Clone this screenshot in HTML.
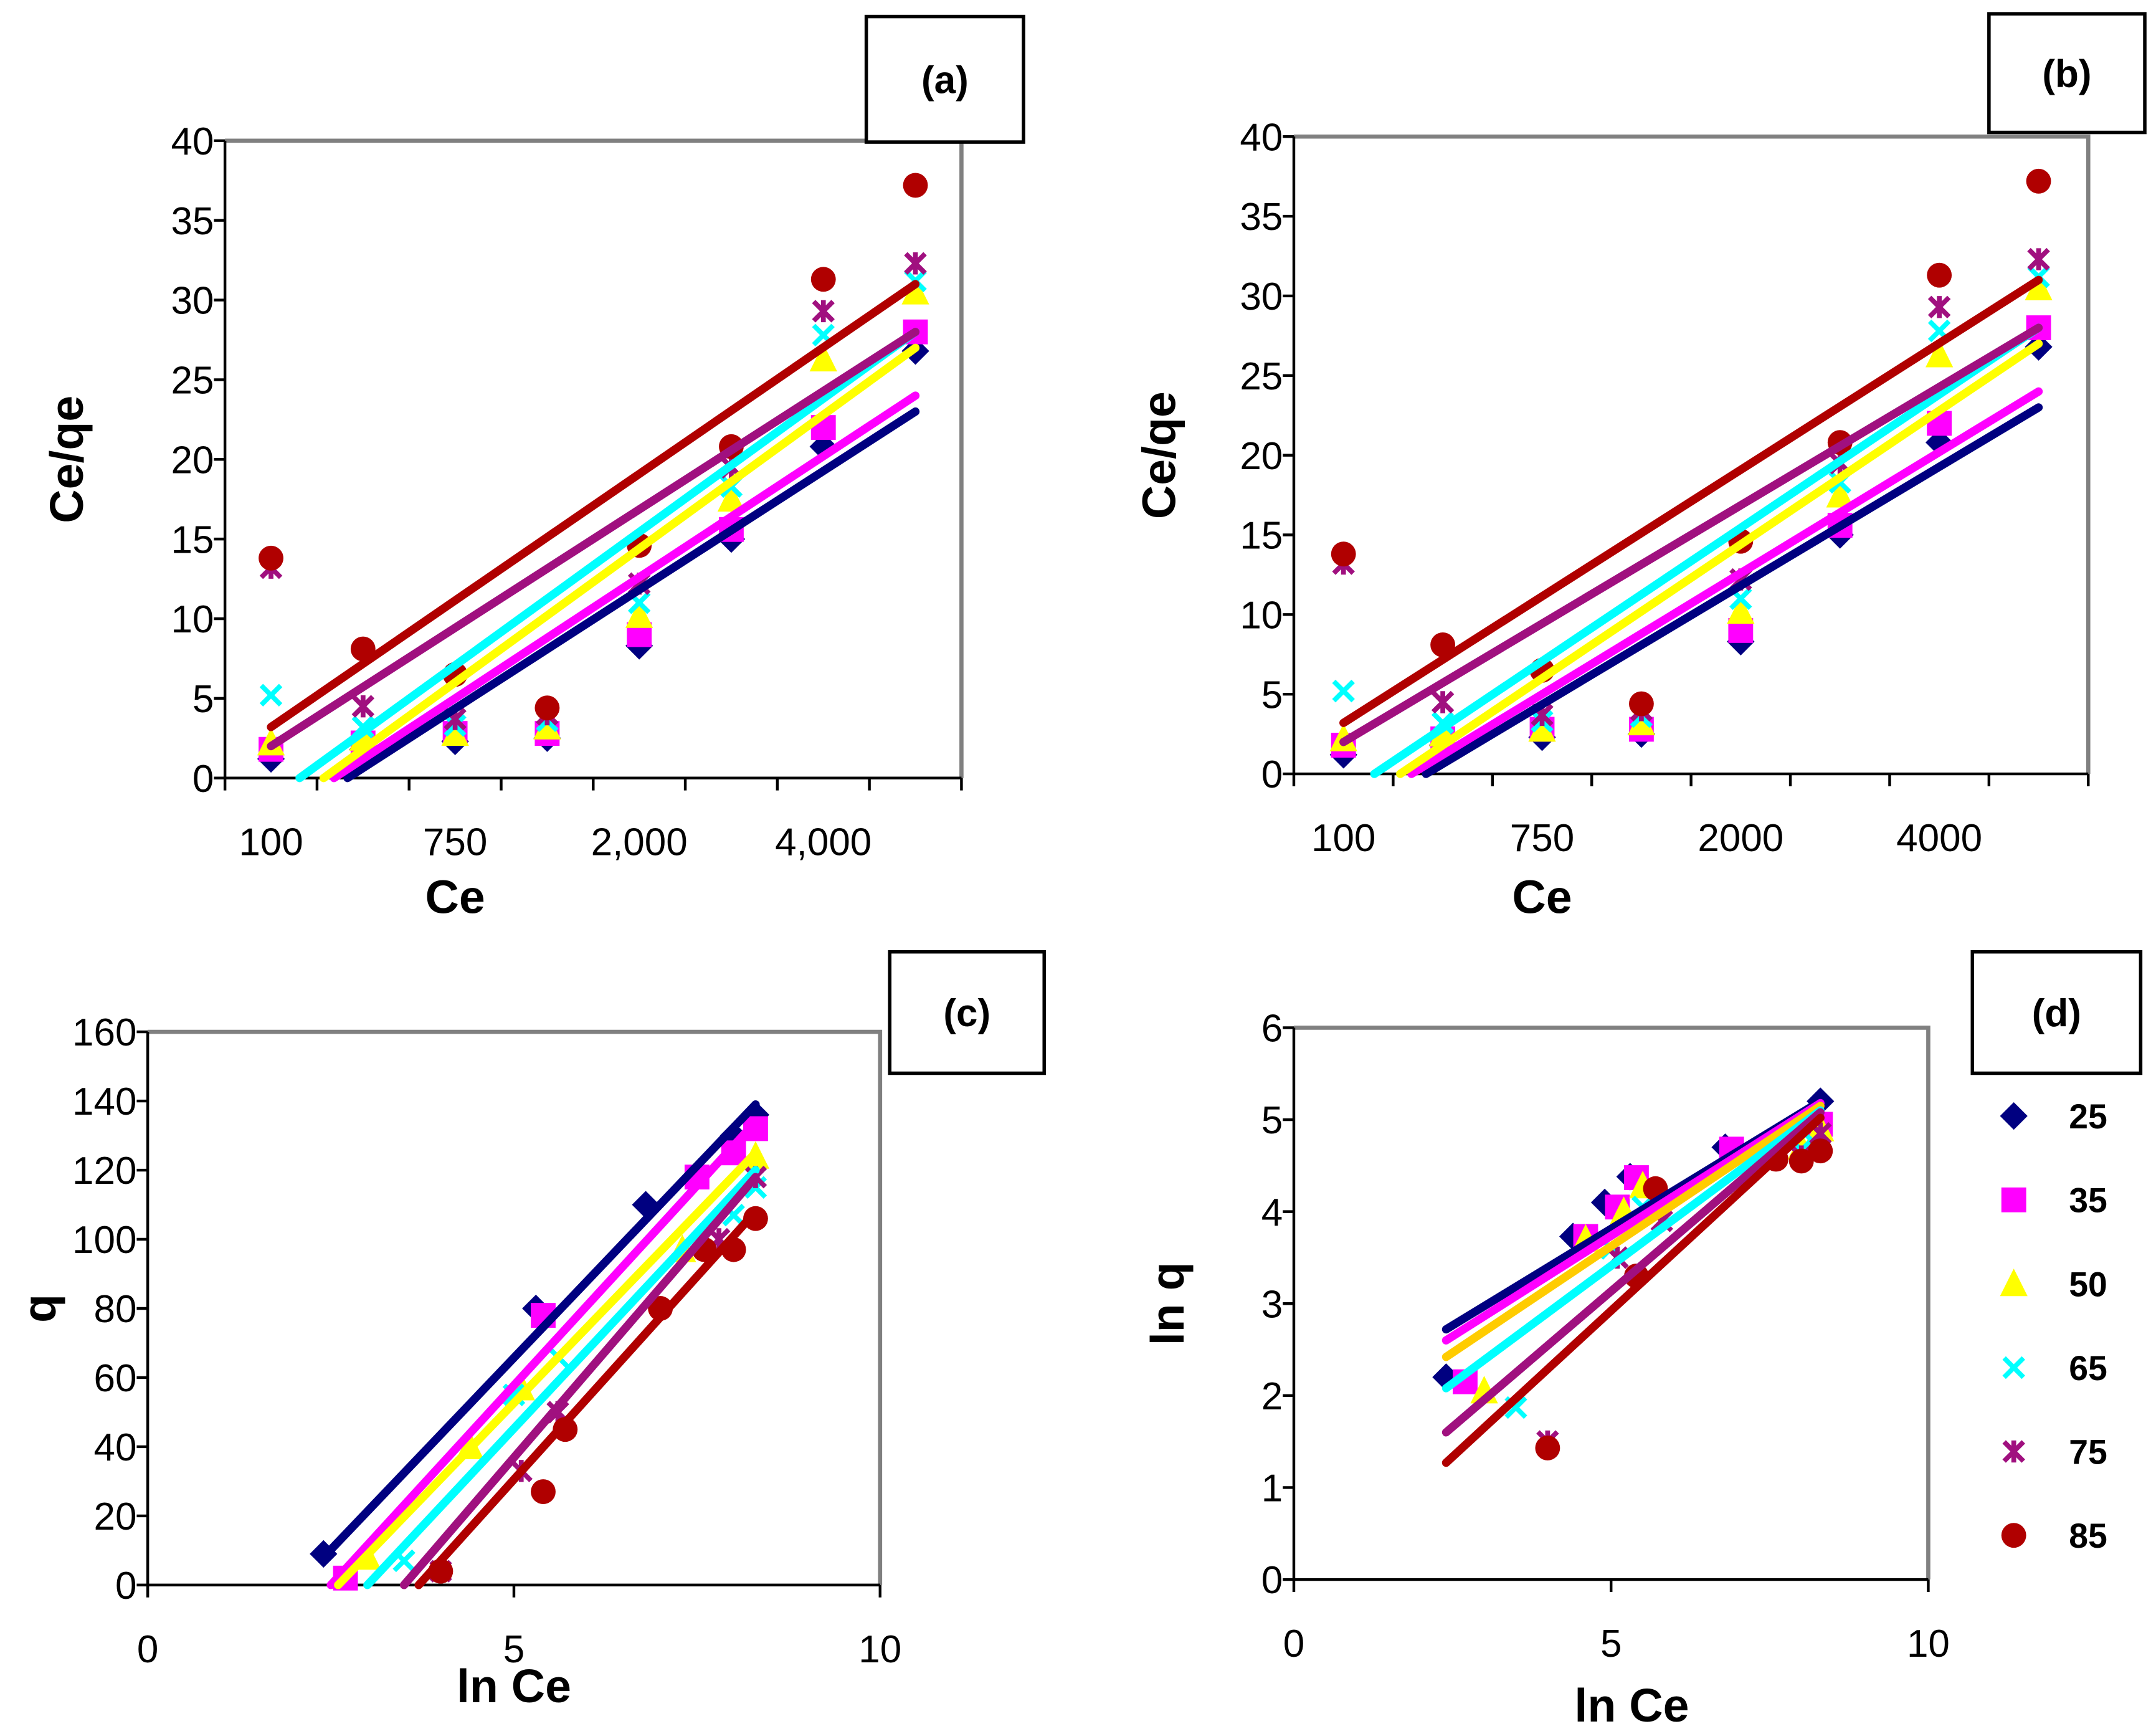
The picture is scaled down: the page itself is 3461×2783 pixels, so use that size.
<!DOCTYPE html>
<html><head><meta charset="utf-8"><style>
html,body{margin:0;padding:0;background:#fff}
svg{display:block}
text{font-family:"Liberation Sans",sans-serif}
</style></head><body>
<svg id="fig" xmlns="http://www.w3.org/2000/svg" width="3461" height="2783" viewBox="0 0 1563 1257">
<rect x="0" y="0" width="1563" height="1257" fill="#fff"/>
</svg>
<script>
const seriesNames = ["25","35","50","65","75","85"];
const abCategories = ["100","","750","","2,000","","4,000",""];
const bCategories = ["100","","750","","2000","","4000",""];
const ab25 = [1.2,1.8,2.3,2.5,8.3,15.0,20.8,26.8];
const ab35 = [1.8,2.2,2.8,2.8,9.0,15.6,22.0,28.0];
const ab50 = [2.2,2.5,2.8,3.2,10.2,17.5,26.3,30.5];
const ab65 = [5.2,3.2,3.3,3.6,11.0,18.3,27.8,31.2];
const ab75 = [13.2,4.5,3.7,4.0,12.2,19.5,29.3,32.3];
const ab85 = [13.8,8.1,6.5,4.4,14.6,20.8,31.3,37.2];
const abTrendStart = [-3.1,-2.6,-2.4,-1.3,2.0,3.2];
const abTrendEnd = [23.0,24.0,27.0,28.0,28.0,31.0];
const abYTicks = [0,5,10,15,20,25,30,35,40];
const c25x = [2.4,5.3,6.8,8.0,8.3], c25y = [9,80,110,130,136];
const c35x = [2.7,5.4,7.5,8.0,8.3], c35y = [2,78,118,125,132];
const c50x = [3.0,4.4,5.1,7.3,8.3], c50y = [8,40,57,97,124];
const c65x = [3.5,5.0,5.6,8.0,8.3], c65y = [7,55,66,107,115];
const c75x = [4.0,5.1,5.6,7.8,8.3], c75y = [4,33,50,100,118];
const c85x = [4.0,5.4,5.7,7.0,7.6,8.0,8.3], c85y = [4,27,45,80,97,97,106];
const cTrendX0 = [2.4,2.5,2.6,3.0,3.5,3.7];
const cTrendY0 = [8,0,0,0,0,0];
const cTrendY1 = [139,134,125,120,118,108];
const cYTicks = [0,20,40,60,80,100,120,140,160];
const xTicksLn = [0,5,10];
const d25x = [2.4,4.4,4.9,5.3,6.8,8.3], d25y = [2.2,3.73,4.1,4.38,4.7,5.2];
const d35x = [2.7,4.6,5.1,5.4,6.9,8.3], d35y = [2.15,3.73,4.05,4.37,4.68,4.95];
const d50x = [3.0,4.6,5.2,5.5,8.0,8.3], d50y = [2.05,3.7,4.0,4.28,4.7,4.9];
const d65x = [3.5,5.0,5.5,8.0,8.2], d65y = [1.87,3.6,4.05,4.67,4.75];
const d75x = [4.0,5.1,5.8,8.0,8.3], d75y = [1.5,3.5,3.9,4.6,4.85];
const d85x = [4.0,5.4,5.7,7.6,8.0,8.3], d85y = [1.43,3.3,4.25,4.57,4.55,4.66];
const dTrendY0 = [2.72,2.6,2.42,2.08,1.6,1.27];
const dTrendY1 = [5.2,5.18,5.15,5.1,5.08,5.02];
const dYTicks = [0,1,2,3,4,5,6];

const colors = ["#000080","#ff00ff","#ffff00","#00ffff","#a0107f","#b00000"];
const dLineColors = ["#000080","#ff00ff","#ffcc00","#00ffff","#a0107f","#b00000"];
const markers = ["diamond","square","triangle","x","star","circle"];
const NS = "http://www.w3.org/2000/svg";
const svg = document.getElementById("fig");

function el(tag, attrs, parent){
  const e = document.createElementNS(NS, tag);
  for (const k in attrs) e.setAttribute(k, attrs[k]);
  (parent||svg).appendChild(e);
  return e;
}
function txt(parent, x, y, s, size, anchor, bold, serif){
  const t = el("text", {x:x, y:y, "font-size":size, "text-anchor":anchor||"middle", "font-weight":bold?"bold":"normal", fill:"#000"}, parent);
  if (serif) t.setAttribute("font-family", '"Liberation Serif",serif');
  t.textContent = s;
  return t;
}
function marker(parent, kind, x, y, color){
  const s = 10;
  let m;
  if (kind==="diamond") m = el("polygon",{points:`${x},${y-s} ${x+s},${y} ${x},${y+s} ${x-s},${y}`,fill:color},parent);
  else if (kind==="square") m = el("rect",{x:x-s+1,y:y-s+1,width:2*s-2,height:2*s-2,fill:color},parent);
  else if (kind==="triangle") m = el("polygon",{points:`${x},${y-s-1} ${x+s},${y+s-1} ${x-s},${y+s-1}`,fill:color},parent);
  else if (kind==="circle") m = el("circle",{cx:x,cy:y,r:s-1,fill:color},parent);
  else if (kind==="x") m = el("path",{d:`M${x-7},${y-7}L${x+7},${y+7}M${x+7},${y-7}L${x-7},${y+7}`,stroke:color,"stroke-width":3.5},parent);
  else m = el("path",{d:`M${x-7},${y-7}L${x+7},${y+7}M${x+7},${y-7}L${x-7},${y+7}M${x},${y-8}L${x},${y+8}`,stroke:color,"stroke-width":3.5},parent);
  
  
  return m;
}
function frame(g, L, R, T, B){
  const f1 = el("path",{d:`M${L},${T}L${R},${T}L${R},${B}`,stroke:"#808080","stroke-width":3,fill:"none"},g);
  
  
  const ya = el("line",{x1:L,y1:T,x2:L,y2:B,stroke:"#000","stroke-width":2},g);
  
  
  const xa = el("line",{x1:L,y1:B,x2:R,y2:B,stroke:"#000","stroke-width":2},g);
  
  
}
function labelBox(g, x, y, w, h, s){
  const r = el("rect",{x:x,y:y,width:w,height:h,fill:"#fff",stroke:"#000","stroke-width":2.5},g);
  
  
  const t = txt(g, x+w/2, y+h/2+10, s, 28, "middle", true, true);
  
  
}
function yAxisTicks(g, L, yOf, ticks){
  ticks.forEach(v=>{
    const y = yOf(v);
    el("line",{x1:L-8,y1:y,x2:L,y2:y,stroke:"#000","stroke-width":2},g);
    const t = txt(g, L-8, y+10, String(v), 28, "end");
    
    
  });
}

function catPanel(name, L, R, T, B, cats, box, ylabX, xlabY){
  const g = el("g",{});
  
  
  const n = cats.length, w = (R-L)/n;
  const xOf = i => L + w*(i+0.5);
  const yOf = v => B - (v/40)*(B-T);
  frame(g, L, R, T, B);
  yAxisTicks(g, L, yOf, abYTicks);
  for (let i=0;i<=n;i++) el("line",{x1:L+w*i,y1:B,x2:L+w*i,y2:B+9,stroke:"#000","stroke-width":2},g);
  cats.forEach((c,i)=>{ if(c){ const t = txt(g, xOf(i), B+56, c, 28);
    
     }});
  const series = [ab25,ab35,ab50,ab65,ab75,ab85];
  series.forEach((vals,s)=>{
    vals.forEach((v,i)=> marker(g, markers[s], xOf(i), yOf(v), colors[s]));
  });
  series.forEach((vals,s)=>{
    let x0 = 0, y0 = abTrendStart[s], x1 = n-1, y1 = abTrendEnd[s];
    if (y0 < 0){ x0 = x0 + (0-y0)/(y1-y0)*(x1-x0); y0 = 0; }
    const ln = el("line",{x1:xOf(x0),y1:yOf(y0),x2:xOf(x1),y2:yOf(y1),stroke:colors[s],"stroke-width":6,"stroke-linecap":"round"},g);
    
    
  });
  const yl = txt(g, ylabX, (T+B)/2, "Ce/qe", 34, "middle", true);
  yl.setAttribute("transform", `rotate(-90 ${ylabX} ${(T+B)/2})`);
  
  
  const xl = txt(g, xOf(2), xlabY, "Ce", 34, "middle", true);
  
  
  labelBox(g, box[0], box[1], box[2], box[3], box[4]);
}
catPanel("panel-a", 163, 697, 102, 564, abCategories, [628,12,114,91,"(a)"], 60, 662);
catPanel("panel-b", 938, 1514, 99, 561, bCategories, [1442,10,113,86,"(b)"], 852, 662);

function numPanel(name, L, R, T, B, ymax, yticks, xs, ys, t0x, t0y, t1y, lcols, box, ylab, ylabX, xlabY){
  const g = el("g",{});
  
  
  const xOf = v => L + (v/10)*(R-L);
  const yOf = v => B - (v/ymax)*(B-T);
  frame(g, L, R, T, B);
  yAxisTicks(g, L, yOf, yticks);
  xTicksLn.forEach(v=>{
    el("line",{x1:xOf(v),y1:B,x2:xOf(v),y2:B+9,stroke:"#000","stroke-width":2},g);
    const t = txt(g, xOf(v), B+56, String(v), 28);
    
    
  });
  xs.forEach((xa,s)=>{ xa.forEach((x,i)=> marker(g, markers[s], xOf(x), yOf(ys[s][i]), colors[s])); });
  xs.forEach((xa,s)=>{
    const ln = el("line",{x1:xOf(t0x[s]),y1:yOf(t0y[s]),x2:xOf(8.3),y2:yOf(t1y[s]),stroke:lcols[s],"stroke-width":6,"stroke-linecap":"round"},g);
    
    
  });
  const yl = txt(g, ylabX, (T+B)/2, ylab, 34, "middle", true);
  yl.setAttribute("transform", `rotate(-90 ${ylabX} ${(T+B)/2})`);
  
  
  const xl = txt(g, (L+R)/2 - (name==="panel-c"?0:-15), xlabY, "ln Ce", 34, "middle", true);
  
  
  labelBox(g, box[0], box[1], box[2], box[3], box[4]);
  return g;
}
numPanel("panel-c", 107, 638, 748, 1149, 160, cYTicks,
  [c25x,c35x,c50x,c65x,c75x,c85x],[c25y,c35y,c50y,c65y,c75y,c85y],
  cTrendX0, cTrendY0, cTrendY1, colors, [645,690,112,88,"(c)"], "q", 40, 1234);
const dG = numPanel("panel-d", 938, 1398, 745, 1145, 6, dYTicks,
  [d25x,d35x,d50x,d65x,d75x,d85x],[d25y,d35y,d50y,d65y,d75y,d85y],
  [2.4,2.4,2.4,2.4,2.4,2.4], dTrendY0, dTrendY1, dLineColors, [1430,690,122,88,"(d)"], "ln q", 858, 1248);

const leg = el("g",{}, dG);


seriesNames.forEach((s,i)=>{
  const y = 809 + i*60.8;
  marker(leg, markers[i], 1460, y, colors[i]);
  const t = txt(leg, 1500, y+9, s, 25, "start", true);
  
  
});
</script>
</body></html>
